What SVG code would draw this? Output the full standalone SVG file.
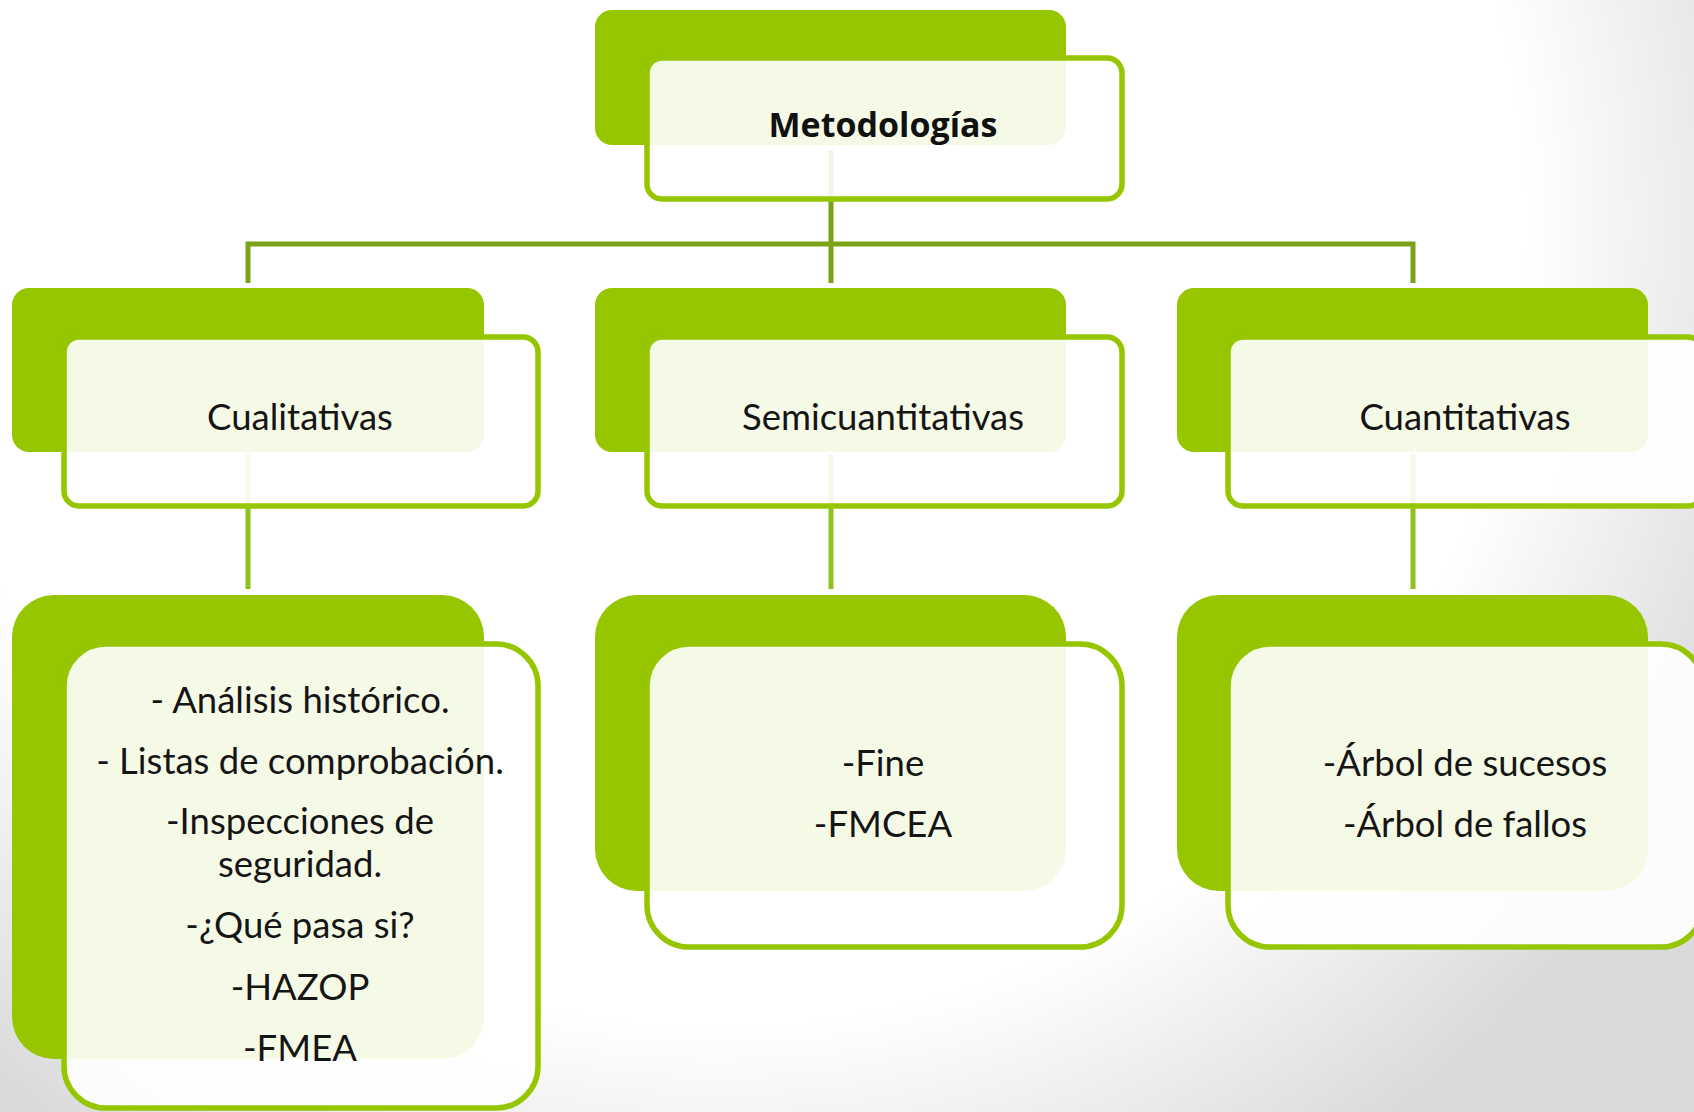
<svg xmlns="http://www.w3.org/2000/svg" width="1694" height="1112" viewBox="0 0 1694 1112">
<defs>
<radialGradient id="bg" gradientUnits="userSpaceOnUse" cx="720" cy="220" r="1120">
<stop offset="0" stop-color="#ffffff"/>
<stop offset="0.72" stop-color="#ffffff"/>
<stop offset="1" stop-color="#dadada"/>
</radialGradient>
<style>
.back{fill:#95c600;}
.front{fill:#ffffff;fill-opacity:0.9;stroke:#95c600;stroke-width:5.5;}
.conn1{stroke:#7ba318;stroke-width:5;fill:none;}
.conn2{stroke:#8fc21a;stroke-width:5;fill:none;}
.t{font-family:Lato,"Open Sans","Noto Sans",sans-serif;font-size:36.5px;fill:#151515;text-anchor:middle;}
.tb{font-family:"Open Sans","Noto Sans",sans-serif;font-size:34px;font-weight:bold;fill:#111;text-anchor:middle;}
</style>
</defs>
<rect x="0" y="0" width="1694" height="1112" fill="url(#bg)"/>
<g id="connectors">
<line class="conn1" x1="831" y1="150" x2="831" y2="283"/>
<polyline class="conn1" points="248,283 248,244 1413,244 1413,283"/>
<line class="conn2" x1="248" y1="454" x2="248" y2="589"/>
<line class="conn2" x1="831" y1="454" x2="831" y2="589"/>
<line class="conn2" x1="1413" y1="454" x2="1413" y2="589"/>
</g>
<g id="node-metodologias">
<rect class="back" x="595" y="10" width="471" height="135" rx="17"/>
<rect class="front" x="647" y="58" width="475" height="141" rx="15"/>
<text class="tb" x="883" y="137">Metodologías</text>
</g>
<g id="node-cualitativas">
<rect class="back" x="12" y="288" width="472" height="164" rx="17"/>
<rect class="front" x="64" y="337" width="474" height="169" rx="15"/>
<text class="t" x="300" y="430">Cualitativas</text>
</g>
<g id="node-semicuantitativas">
<rect class="back" x="595" y="288" width="471" height="164" rx="17"/>
<rect class="front" x="647" y="337" width="475" height="169" rx="15"/>
<text class="t" x="883" y="430">Semicuantitativas</text>
</g>
<g id="node-cuantitativas">
<rect class="back" x="1177" y="288" width="471" height="164" rx="17"/>
<rect class="front" x="1228" y="337" width="475" height="169" rx="15"/>
<text class="t" x="1465" y="430">Cuantitativas</text>
</g>
<g id="node-lista-cualitativas">
<rect class="back" x="12" y="595" width="472" height="464" rx="42"/>
<rect class="front" x="64" y="644" width="474" height="464" rx="42"/>
<text class="t" x="300" y="713">- Análisis histórico.</text>
<text class="t" x="300" y="774">- Listas de comprobación.</text>
<text class="t" x="300" y="834">-Inspecciones de</text>
<text class="t" x="300" y="877">seguridad.</text>
<text class="t" x="300" y="938">-¿Qué pasa si?</text>
<text class="t" x="300" y="1000">-HAZOP</text>
<text class="t" x="300" y="1061">-FMEA</text>
</g>
<g id="node-lista-semicuantitativas">
<rect class="back" x="595" y="595" width="471" height="296" rx="42"/>
<rect class="front" x="647" y="644" width="475" height="303" rx="42"/>
<text class="t" x="883" y="776">-Fine</text>
<text class="t" x="883" y="837">-FMCEA</text>
</g>
<g id="node-lista-cuantitativas">
<rect class="back" x="1177" y="595" width="471" height="296" rx="42"/>
<rect class="front" x="1228" y="644" width="475" height="303" rx="42"/>
<text class="t" x="1465" y="776">-Árbol de sucesos</text>
<text class="t" x="1465" y="837">-Árbol de fallos</text>
</g>
</svg>
